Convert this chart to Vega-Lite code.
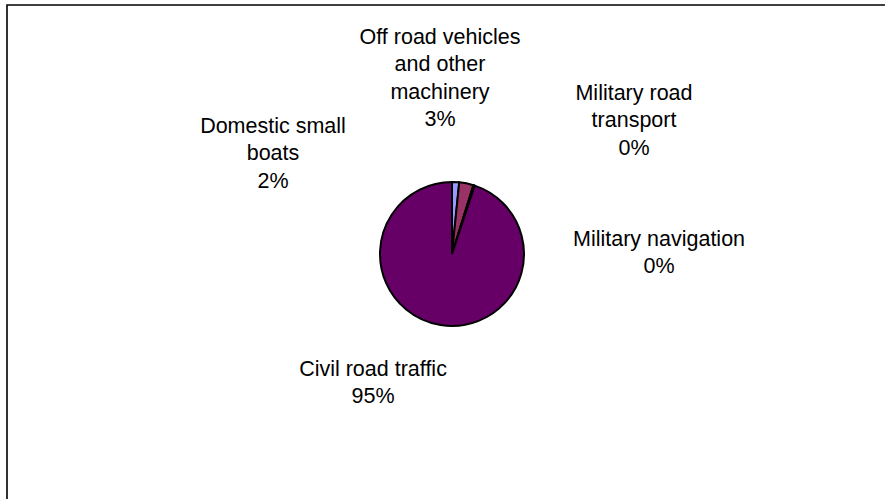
{
  "$schema": "https://vega.github.io/schema/vega-lite/v6.json",
  "width": 890,
  "height": 498,
  "autosize": {"type": "none"},
  "padding": {"left": 7, "top": 5, "right": 0, "bottom": 0},
  "background": "white",
  "config": {
    "view": {"stroke": null},
    "text": {"font": "Liberation Sans", "fontSize": 21.5, "lineHeight": 27.3, "align": "center", "baseline": "middle", "lineBreak": "\n", "color": "black"}
  },
  "data": {
    "values": [
      {"idx": 1, "category": "Domestic small boats", "label": "Domestic small\nboats", "value": 1.6},
      {"idx": 2, "category": "Off road vehicles and other machinery", "label": "Off road vehicles\nand other\nmachinery", "value": 3.2},
      {"idx": 3, "category": "Military road transport", "label": "Military road\ntransport", "value": 0.1},
      {"idx": 4, "category": "Military navigation", "label": "Military navigation", "value": 0.2},
      {"idx": 5, "category": "Civil road traffic", "label": "Civil road traffic", "value": 94.9}
    ]
  },
  "transform": [
    {"joinaggregate": [{"op": "sum", "field": "value", "as": "total"}]},
    {"calculate": "datum.label + '\\n' + format(datum.value / datum.total, '.0%')", "as": "txt"}
  ],
  "layer": [
    {
      "transform": [{"filter": "datum.idx == 1"}],
      "mark": {"type": "rect", "fill": null, "stroke": "black", "strokeWidth": 1.6},
      "encoding": {}
    },
    {
      "mark": {"type": "arc", "outerRadius": 72, "stroke": "black", "strokeWidth": 2},
      "encoding": {
        "theta": {"field": "value", "type": "quantitative", "stack": true},
        "order": {"field": "idx", "type": "quantitative"},
        "color": {
          "field": "category",
          "type": "nominal",
          "scale": {
            "domain": ["Domestic small boats", "Off road vehicles and other machinery", "Military road transport", "Military navigation", "Civil road traffic"],
            "range": ["#9999FF", "#993366", "#FFFFCC", "#CCFFFF", "#660066"]
          },
          "legend": null
        }
      }
    },
    {
      "transform": [{"filter": "datum.idx == 1"}],
      "mark": {"type": "text", "dx": -179, "dy": -127},
      "encoding": {"text": {"field": "txt", "type": "nominal"}}
    },
    {
      "transform": [{"filter": "datum.idx == 2"}],
      "mark": {"type": "text", "dx": -12, "dy": -216},
      "encoding": {"text": {"field": "txt", "type": "nominal"}}
    },
    {
      "transform": [{"filter": "datum.idx == 3"}],
      "mark": {"type": "text", "dx": 182, "dy": -160},
      "encoding": {"text": {"field": "txt", "type": "nominal"}}
    },
    {
      "transform": [{"filter": "datum.idx == 4"}],
      "mark": {"type": "text", "dx": 207, "dy": -14},
      "encoding": {"text": {"field": "txt", "type": "nominal"}}
    },
    {
      "transform": [{"filter": "datum.idx == 5"}],
      "mark": {"type": "text", "dx": -79, "dy": 116},
      "encoding": {"text": {"field": "txt", "type": "nominal"}}
    }
  ]
}
